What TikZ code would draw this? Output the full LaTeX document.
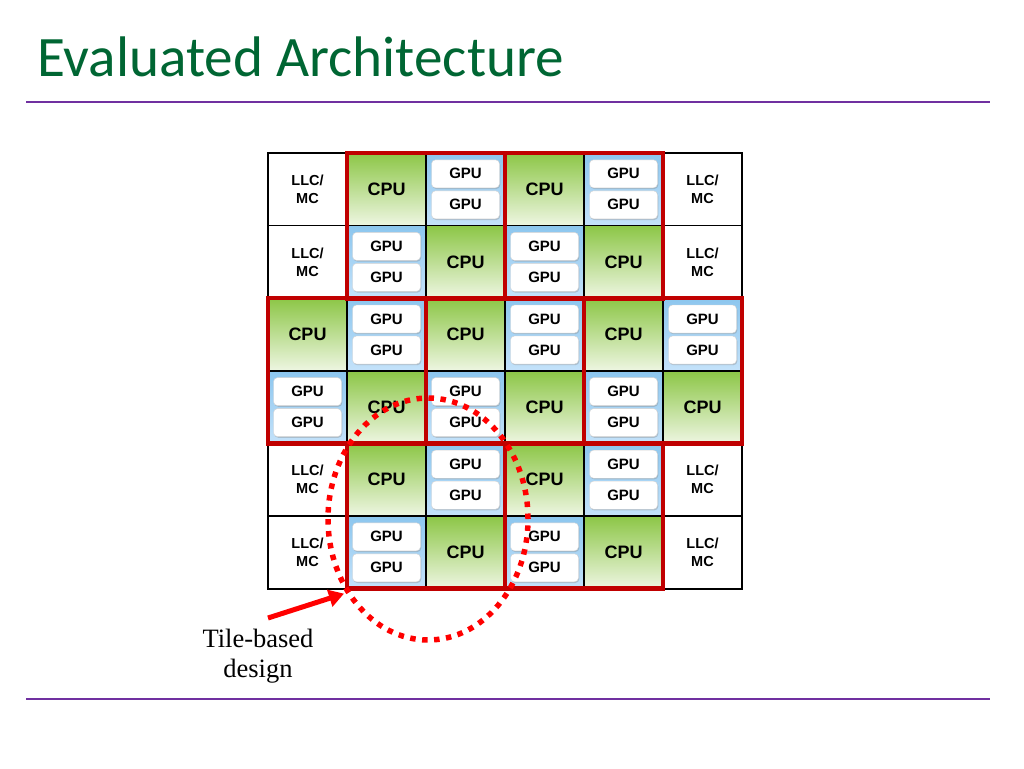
\documentclass[tikz,border=0pt]{standalone}
\usepackage{fontspec}
\setmainfont{Liberation Serif}
\setsansfont{Liberation Sans}
\newfontfamily\titlefont{Carlito}
\usepackage{tikz}
\usetikzlibrary{shapes.geometric, arrows.meta, positioning, calc, shadows}

\definecolor{titlegreen}{RGB}{0,102,51}
\definecolor{rulepurple}{RGB}{112,48,160}
\definecolor{tilered}{RGB}{192,0,0}
\definecolor{cpugreen}{RGB}{140,198,70}
\definecolor{cpulight}{RGB}{238,246,226}
\definecolor{gpublue}{RGB}{140,198,238}
\definecolor{gpulight}{RGB}{196,226,250}

\newcommand{\llccell}[3]{\node[llcbox] (#1) at (#2,#3) {LLC/\\MC};}
\newcommand{\cpucell}[3]{\node[cpubox] (#1) at (#2,#3) {CPU};}
\newcommand{\gpucell}[3]{%
  \node[gpubox] (#1) at (#2,#3) {};
  \node[gpuchip, yshift=15.5pt] (#1-a) at (#1.center) {GPU};
  \node[gpuchip, yshift=-15.5pt] (#1-b) at (#1.center) {GPU};}

\begin{document}
\begin{tikzpicture}[
	x=1pt, y=-1pt,
	cell/.style={draw=black, line width=1.8pt, minimum width=79pt, minimum height=72.7pt, inner sep=0pt, outer sep=0pt},
	llcbox/.style={cell, fill=white, align=center, font=\sffamily\bfseries\fontsize{14.5}{18}\selectfont},
	cpubox/.style={cell, top color=cpugreen, bottom color=cpulight, font=\sffamily\bfseries\fontsize{18}{18}\selectfont},
	gpubox/.style={cell, top color=gpublue, bottom color=gpulight},
	gpuchip/.style={draw=gray!35, fill=white, rounded corners=4pt, minimum width=68pt, minimum height=28pt, inner sep=0pt,
		font=\sffamily\bfseries\fontsize{15}{15}\selectfont, drop shadow={opacity=0.35, shadow xshift=0.8pt, shadow yshift=-1.2pt}},
	tile/.style={draw=tilered, line width=4.5pt},
	ring/.style={draw=red, ellipse, minimum width=200pt, minimum height=242pt, inner sep=0pt, line width=5.5pt, dash pattern=on 5.5pt off 6.5pt},
	pointer/.style={red, line width=5pt, -{Triangle[length=15pt, width=17pt]}}
]
\useasboundingbox (0,0) rectangle (1024,768);

% title and rules
\node[anchor=base west, inner sep=0pt, text=titlegreen, font=\titlefont\fontsize{57.2}{57}\selectfont] (title) at (37,76) {Evaluated Architecture};
\draw[rulepurple, line width=2pt] (26,102) -- (990,102);
\draw[rulepurple, line width=2pt] (26,699) -- (990,699);

% cells
\foreach \r/\kinds in {0/{llc,cpu,gpu,cpu,gpu,llc}, 1/{llc,gpu,cpu,gpu,cpu,llc},
	2/{cpu,gpu,cpu,gpu,cpu,gpu}, 3/{gpu,cpu,gpu,cpu,gpu,cpu},
	4/{llc,cpu,gpu,cpu,gpu,llc}, 5/{llc,gpu,cpu,gpu,cpu,llc}} {
	\foreach \k [count=\c from 0] in \kinds {
		\pgfmathsetmacro\cx{307.5+79*\c}
		\pgfmathsetmacro\cy{189.3+72.6*\r}
		\csname\k cell\endcsname{c-\r-\c}{\cx}{\cy}
	}
}

% tiles
\draw[tile] (c-0-1.north west) rectangle (c-1-2.south east);
\draw[tile] (c-0-3.north west) rectangle (c-1-4.south east);
\draw[tile] (c-2-0.north west) rectangle (c-3-1.south east);
\draw[tile] (c-2-2.north west) rectangle (c-3-3.south east);
\draw[tile] (c-2-4.north west) rectangle (c-3-5.south east);
\draw[tile] (c-4-1.north west) rectangle (c-5-2.south east);
\draw[tile] (c-4-3.north west) rectangle (c-5-4.south east);

% highlighted tile
\node[ring] (ring) at (428,519) {};
\coordinate (tail) at (268,618);
\draw[pointer] (tail) -- ($(c-5-1.south west)+(-3,5)$);
\node[align=center, font=\fontsize{26.5}{30}\selectfont] (note) at (258,656) {Tile-based\\design};

\end{tikzpicture}
\end{document}
